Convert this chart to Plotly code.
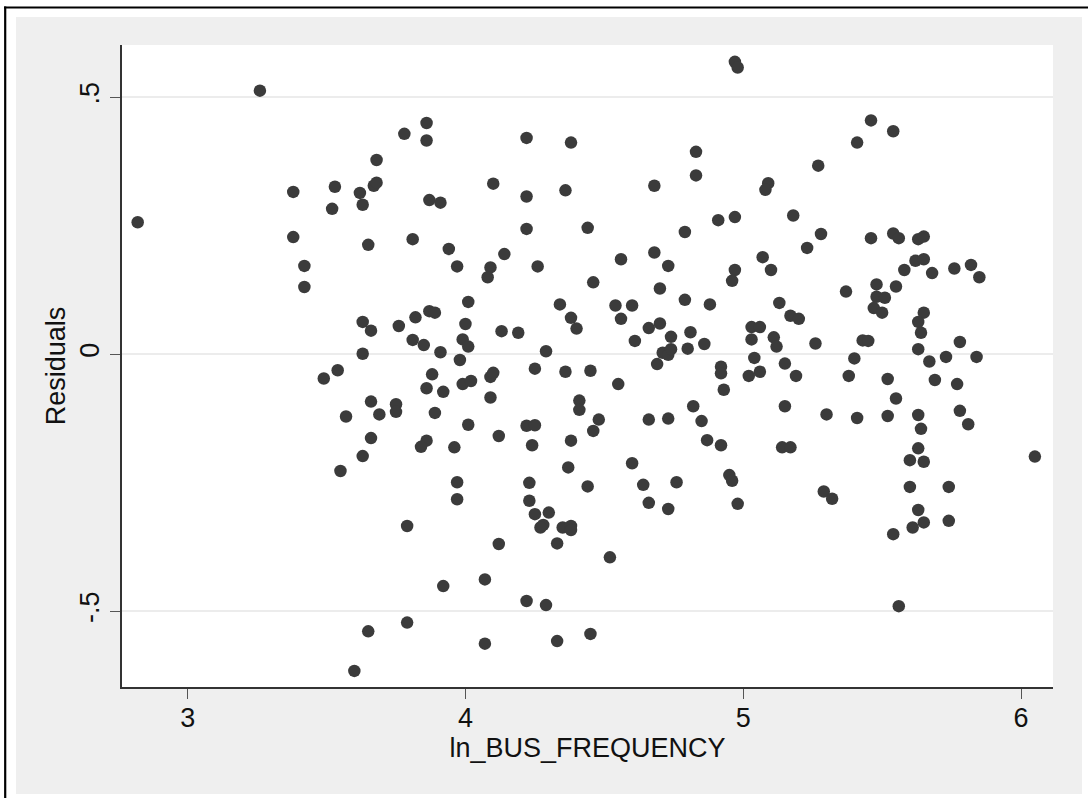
import plotly.graph_objects as go

# Residuals against log bus frequency
ln_bus_frequency = [
    2.82, 3.26, 3.38, 3.38, 3.42, 3.42, 3.53, 3.52, 3.62, 3.63,
    3.68, 3.67, 3.68, 3.78, 3.86, 3.86, 3.87, 3.91, 3.65, 3.81,
    3.94, 3.97, 4.01, 3.63, 3.66, 3.76, 3.82, 3.87, 3.89, 3.81,
    3.85, 3.91, 4.00, 3.99, 4.01, 3.98, 3.63, 3.54, 3.49, 3.88,
    3.86, 3.92, 3.99, 4.02, 3.66, 3.75, 3.75, 3.69, 3.57, 3.89,
    4.01, 3.66, 3.63, 3.55, 3.86, 3.84, 3.96, 3.97, 3.97, 3.79,
    3.92, 3.79, 3.65, 3.60,
    4.97, 4.98, 4.22, 4.38, 4.83, 4.83, 4.10, 4.22, 4.36, 4.68,
    4.22, 4.44, 4.79, 4.91, 4.97, 4.14, 4.09, 4.08, 4.26, 4.56,
    4.68, 4.73, 4.97, 4.96, 4.46, 4.70, 4.13, 4.19, 4.34, 4.38,
    4.40, 4.29, 4.54, 4.60, 4.56, 4.79, 4.88, 4.66, 4.70, 4.74,
    4.61, 4.81, 4.80, 4.86, 4.71, 4.73, 4.74, 4.69, 4.92, 4.92,
    4.93, 4.25, 4.36, 4.45, 4.09, 4.10, 4.09, 4.55, 4.41, 4.41,
    4.48, 4.46, 4.12, 4.22, 4.25, 4.24, 4.38, 4.66, 4.73, 4.82,
    4.85, 4.87, 4.92, 4.60, 4.37, 4.23, 4.23, 4.44, 4.64, 4.76,
    4.66, 4.73, 4.95, 4.96, 4.98, 4.25, 4.30, 4.28, 4.27, 4.35,
    4.38, 4.38, 4.33, 4.12, 4.52, 4.07, 4.22, 4.29, 4.07, 4.33,
    4.45,
    5.09, 5.08, 5.46, 5.54, 5.41, 5.27, 5.18, 5.28, 5.23, 5.46,
    5.54, 5.56, 5.63, 5.65, 5.07, 5.10, 5.62, 5.65, 5.58, 5.68,
    5.76, 5.82, 5.85, 5.37, 5.48, 5.48, 5.51, 5.55, 5.47, 5.50,
    5.13, 5.17, 5.20, 5.03, 5.06, 5.03, 5.11, 5.12, 5.26, 5.43,
    5.45, 5.65, 5.63, 5.64, 5.63, 5.78, 5.73, 5.84, 5.67, 5.04,
    5.15, 5.40, 5.02, 5.06, 5.19, 5.38, 5.52, 5.69, 5.77, 5.55,
    5.15, 5.30, 5.41, 5.52, 5.63, 5.64, 5.78, 5.81, 5.14, 5.17,
    5.63, 5.60, 5.65, 6.05, 5.60, 5.74, 5.29, 5.32, 5.63, 5.65,
    5.61, 5.74, 5.54, 5.56,
]

residuals = [
    0.257, 0.513, 0.316, 0.228, 0.172, 0.131, 0.326, 0.283, 0.314, 0.291,
    0.378, 0.328, 0.334, 0.429, 0.450, 0.416, 0.300, 0.295, 0.213, 0.224,
    0.205, 0.171, 0.102, 0.063, 0.046, 0.055, 0.072, 0.084, 0.081, 0.028,
    0.018, 0.004, 0.059, 0.029, 0.015, -0.011, 0.001, -0.031, -0.047, -0.039,
    -0.066, -0.073, -0.058, -0.052, -0.092, -0.097, -0.112, -0.117, -0.121, -0.114,
    -0.137, -0.163, -0.198, -0.227, -0.168, -0.180, -0.181, -0.249, -0.282, -0.334,
    -0.451, -0.522, -0.539, -0.616,
    0.569, 0.558, 0.421, 0.412, 0.394, 0.348, 0.332, 0.307, 0.319, 0.328,
    0.244, 0.246, 0.238, 0.261, 0.267, 0.195, 0.169, 0.150, 0.171, 0.185,
    0.198, 0.172, 0.164, 0.143, 0.140, 0.128, 0.045, 0.042, 0.097, 0.071,
    0.050, 0.006, 0.095, 0.095, 0.069, 0.106, 0.097, 0.051, 0.060, 0.034,
    0.026, 0.043, 0.011, 0.020, 0.003, -0.001, 0.010, -0.019, -0.024, -0.037,
    -0.069, -0.028, -0.034, -0.032, -0.044, -0.036, -0.084, -0.058, -0.090, -0.108,
    -0.127, -0.149, -0.159, -0.139, -0.138, -0.177, -0.168, -0.127, -0.125, -0.101,
    -0.130, -0.167, -0.177, -0.212, -0.220, -0.250, -0.285, -0.257, -0.254, -0.249,
    -0.289, -0.301, -0.235, -0.246, -0.291, -0.311, -0.308, -0.332, -0.337, -0.337,
    -0.334, -0.342, -0.368, -0.369, -0.395, -0.438, -0.480, -0.488, -0.563, -0.558,
    -0.544,
    0.333, 0.320, 0.455, 0.434, 0.412, 0.367, 0.270, 0.234, 0.207, 0.226,
    0.235, 0.226, 0.224, 0.229, 0.189, 0.164, 0.182, 0.185, 0.164, 0.158,
    0.167, 0.174, 0.150, 0.122, 0.136, 0.112, 0.110, 0.132, 0.090, 0.081,
    0.100, 0.075, 0.069, 0.053, 0.053, 0.029, 0.033, 0.015, 0.021, 0.027,
    0.026, 0.081, 0.063, 0.042, 0.010, 0.024, -0.005, -0.005, -0.014, -0.007,
    -0.018, -0.008, -0.042, -0.034, -0.042, -0.042, -0.048, -0.050, -0.058, -0.086,
    -0.101, -0.117, -0.124, -0.120, -0.118, -0.145, -0.110, -0.136, -0.181, -0.181,
    -0.183, -0.206, -0.209, -0.199, -0.258, -0.258, -0.267, -0.281, -0.303, -0.327,
    -0.337, -0.324, -0.350, -0.490,
]

x_ticks = [3, 4, 5, 6]
x_tick_text = ["3", "4", "5", "6"]
y_ticks = [-0.5, 0, 0.5]
y_tick_text = ["-.5", "0", ".5"]

W, H = 1088, 798
ML, MR, MT, MB = 122, 35, 45, 111
PW, PH = W - ML - MR, H - MT - MB


def px_x(p):
    return (p - ML) / PW


def px_y(p):
    return (H - MB - p) / PH


FONT = "Liberation Sans, Arial, sans-serif"
FS = 27

fig = go.Figure()
fig.add_trace(go.Scatter(
    x=ln_bus_frequency,
    y=residuals,
    mode="markers",
    marker=dict(size=12.5, color="#3b3b3b", line=dict(width=0)),
    hoverinfo="x+y",
    showlegend=False,
))

shapes = []
# white margin strips around the grey graph region
for x0, y0, x1, y1 in [(0, 0, W, 17), (0, 0, 16, H), (1082, 0, W, H), (0, 794, W, H)]:
    shapes.append(dict(type="rect", xref="paper", yref="paper",
                       x0=px_x(x0), x1=px_x(x1), y0=px_y(y1), y1=px_y(y0),
                       fillcolor="white", line=dict(width=0), layer="above"))
# black frame lines (top and left)
shapes.append(dict(type="line", xref="paper", yref="paper",
                   x0=px_x(4), x1=px_x(W), y0=px_y(7.5), y1=px_y(7.5),
                   line=dict(color="black", width=2.2), layer="above"))
shapes.append(dict(type="line", xref="paper", yref="paper",
                   x0=px_x(5.2), x1=px_x(5.2), y0=px_y(6.5), y1=px_y(H),
                   line=dict(color="black", width=2.2), layer="above"))

fig.update_layout(
    width=W, height=H,
    margin=dict(l=ML, r=MR, t=MT, b=MB, pad=0),
    paper_bgcolor="#efefef",
    plot_bgcolor="white",
    font=dict(family=FONT, size=FS, color="#111111"),
    shapes=shapes,
    xaxis=dict(
        range=[2.7635, 6.1152],
        tickvals=x_ticks, ticktext=x_tick_text,
        ticks="outside", ticklen=10, tickwidth=1.3, tickcolor="#555555",
        ticklabelstandoff=-4,
        showgrid=False, zeroline=False,
        showline=True, linecolor="#333333", linewidth=1.5,
        title=dict(text="ln_BUS_FREQUENCY", font=dict(size=FS), standoff=2),
        tickfont=dict(size=FS),
    ),
    yaxis=dict(
        range=[-0.6473, 0.6018],
        tickvals=y_ticks, ticktext=y_tick_text,
        tickangle=-90,
        ticks="outside", ticklen=10, tickwidth=1.3, tickcolor="#555555",
        showgrid=True, gridcolor="#ececec", gridwidth=2,
        zeroline=False,
        showline=True, linecolor="#333333", linewidth=1.5,
        title=dict(text="Residuals", font=dict(size=FS), standoff=2),
        tickfont=dict(size=FS),
    ),
)

fig.write_html("out.html")
